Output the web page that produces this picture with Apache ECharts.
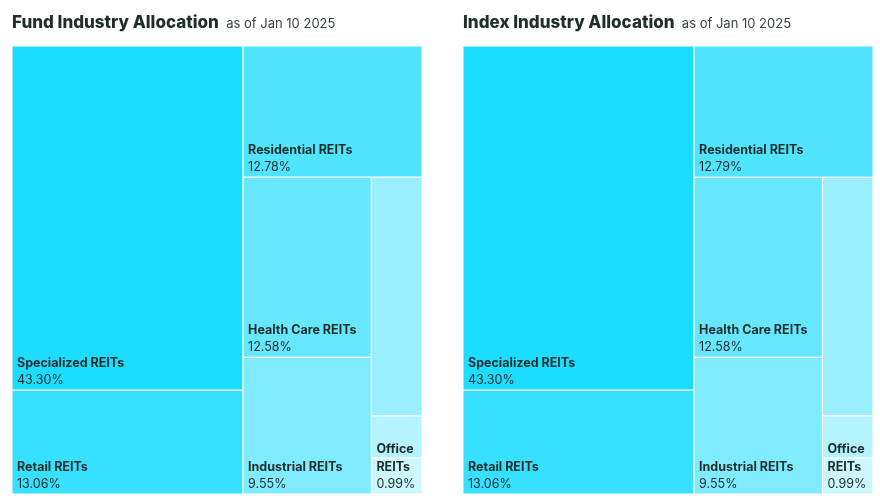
<!DOCTYPE html>
<html><head><meta charset="utf-8">
<script src="https://cdn.jsdelivr.net/npm/echarts@6/dist/echarts.min.js"></script>
<style>html,body{margin:0;padding:0;background:#fff}#c{width:880px;height:504px}</style>
</head><body><div id="c"></div>
<script>
const fundTitle = 'Fund Industry Allocation';
const indexTitle = 'Index Industry Allocation';
const asOf = 'as of Jan 10 2025';
const categories = ['Specialized REITs', 'Retail REITs', 'Residential REITs', 'Health Care REITs',
  'Industrial REITs', 'Real Estate Management & Development', 'Diversified REITs', 'Office REITs'];
const fundValues = [43.30, 13.06, 12.78, 12.58, 9.55, 6.58, 1.16, 0.99];
const indexValues = [43.30, 13.06, 12.79, 12.58, 9.55, 6.57, 1.16, 0.99];
const cellColors = ['#1cdcff', '#37e0ff', '#50e4ff', '#67e7ff', '#80eaff', '#9beeff', '#b4f3ff', '#cdf7ff'];

// nesting of the treemap: 'row' = children side by side, 'col' = children stacked
const structure = { split: 'row', items: [
  { split: 'col', items: [0, 1] },
  { split: 'col', items: [2, { split: 'row', items: [
    { split: 'col', items: [3, 4] },
    { split: 'col', items: [5, 6, 7] }
  ] }] }
] };

const FONT = 'Inter, "Noto Sans", sans-serif';
const TEXT_COLOR = '#1b2e2b';
const LABEL_SIZE = 12.5;
const ctx = document.createElement('canvas').getContext('2d');
function textW(t, weight) { ctx.font = weight + ' ' + LABEL_SIZE + 'px ' + FONT; return ctx.measureText(t).width; }

function sumOf(node, vals) {
  return typeof node === 'number' ? vals[node] : node.items.reduce((s, n) => s + sumOf(n, vals), 0);
}
function layout(node, vals, x0, y0, x1, y1, out) {
  if (typeof node === 'number') { out.push([x0, y0, x1, y1, node, vals[node]]); return; }
  const total = sumOf(node, vals);
  let pos = node.split === 'row' ? x0 : y0;
  node.items.forEach(child => {
    const f = sumOf(child, vals) / total;
    if (node.split === 'row') { const w = (x1 - x0) * f; layout(child, vals, pos, y0, pos + w, y1, out); pos += w; }
    else { const h = (y1 - y0) * f; layout(child, vals, x0, pos, x1, pos + h, out); pos += h; }
  });
}
function wrapName(name, avail) {
  const words = name.split(' ');
  const lines = [];
  let cur = '';
  for (const wd of words) {
    if (textW(wd, 'bold') > avail) return null;
    const t = cur ? cur + ' ' + wd : wd;
    if (textW(t, 'bold') <= avail) cur = t; else { lines.push(cur); cur = wd; }
  }
  if (cur) lines.push(cur);
  return lines;
}
function renderItem(params, api) {
  const p0 = api.coord([api.value(0), api.value(1)]);
  const p1 = api.coord([api.value(2), api.value(3)]);
  const idx = api.value(4);
  const val = api.value(5);
  const x = p0[0], y = Math.min(p0[1], p1[1]);
  const w = p1[0] - p0[0], h = Math.abs(p1[1] - p0[1]);
  const children = [{
    type: 'rect', shape: { x: x, y: y, width: w, height: h },
    style: { fill: cellColors[idx], stroke: '#ffffff', lineWidth: 1 }
  }];
  const lines = wrapName(categories[idx], w - 9);
  const LH = 17.5;
  if (lines) {
    const txt = lines.map(l => '{n|' + l + '}').join('\n') + '\n{p|' + val.toFixed(2) + '%}';
    children.push({
      type: 'text', z2: 10,
      style: {
        x: x + 5, y: y + h - 1, text: txt, align: 'left', verticalAlign: 'bottom',
        rich: {
          n: { fontFamily: FONT, fontSize: LABEL_SIZE, fontWeight: 'bold', fill: TEXT_COLOR, lineHeight: LH },
          p: { fontFamily: FONT, fontSize: LABEL_SIZE, fontWeight: 'normal', fill: TEXT_COLOR, lineHeight: LH }
        }
      }
    });
  }
  return { type: 'group', children: children };
}
function cells(vals) { const out = []; layout(structure, vals, 0, 0, 1, 1, out); return out; }

function titleOpt(text, left) {
  return {
    left: left, top: 7, padding: 0, text: '{t|' + text + '}{s|  ' + asOf + '}',
    textStyle: { rich: {
      t: { fontFamily: FONT, fontSize: 17, fontWeight: 800, color: '#1f2e2b', lineHeight: 24, verticalAlign: 'bottom' },
      s: { fontFamily: FONT, fontSize: 13, fontWeight: 'normal', color: '#3a4543', lineHeight: 22, verticalAlign: 'bottom' }
    } }
  };
}
const chart = echarts.init(document.getElementById('c'));
const axisBase = { type: 'value', min: 0, max: 1, show: false };
chart.setOption({
  animation: false,
  title: [titleOpt(fundTitle, 12), titleOpt(indexTitle, 463)],
  grid: [
    { left: 12, top: 46, width: 410, height: 448 },
    { left: 463, top: 46, width: 410, height: 448 }
  ],
  xAxis: [Object.assign({ gridIndex: 0 }, axisBase), Object.assign({ gridIndex: 1 }, axisBase)],
  yAxis: [Object.assign({ gridIndex: 0, inverse: true }, axisBase), Object.assign({ gridIndex: 1, inverse: true }, axisBase)],
  series: [
    { type: 'custom', name: 'Fund', xAxisIndex: 0, yAxisIndex: 0, renderItem: renderItem, clip: false,
      encode: { x: [0, 2], y: [1, 3] }, data: cells(fundValues) },
    { type: 'custom', name: 'Index', xAxisIndex: 1, yAxisIndex: 1, renderItem: renderItem, clip: false,
      encode: { x: [0, 2], y: [1, 3] }, data: cells(indexValues) }
  ]
});
</script></body></html>
